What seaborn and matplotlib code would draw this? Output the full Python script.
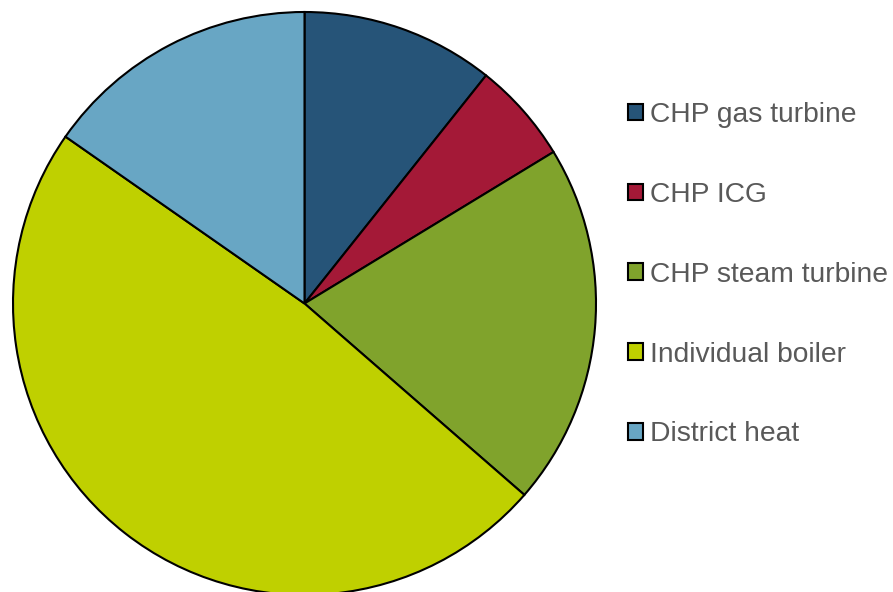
import matplotlib
matplotlib.use("Agg")
import matplotlib.pyplot as plt
import seaborn as sns
from matplotlib.patches import Patch

# heat supply shares (%), clockwise from 12 o'clock
labels = ["CHP gas turbine", "CHP ICG", "CHP steam turbine", "Individual boiler", "District heat"]
shares = [10.7, 5.6, 20.1, 48.3, 15.3]
colors = ["#265478", "#A41937", "#80A32C", "#BFD000", "#68A6C4"]

sns.set_theme(style="white")
plt.rcParams['font.family'] = ['Liberation Sans', 'DejaVu Sans']

fig = plt.figure(figsize=(8.93, 5.92), dpi=100)
ax = fig.add_axes([0, 0, 1, 1])
ax.set_xlim(0, 893)
ax.set_ylim(0, 592)
ax.set_aspect('equal')
ax.axis('off')

ax.pie(shares, colors=colors, startangle=90, counterclock=False,
       center=(304.5, 592 - 303.5), radius=291.5,
       wedgeprops=dict(edgecolor='black', linewidth=1.5))
ax.set_xlim(0, 893)
ax.set_ylim(0, 592)

handles = [Patch(facecolor=c, edgecolor='black', linewidth=1.5) for c in colors]
leg = fig.legend(handles, labels, loc='upper left', bbox_to_anchor=(628 / 893, 1 - 102 / 592),
                 frameon=False, fontsize=20.3, labelcolor='#595959',
                 handlelength=0.53, handleheight=0.53, handletextpad=0.25,
                 labelspacing=1.91, borderpad=0, borderaxespad=0)

fig.savefig("out.png", dpi=100)
